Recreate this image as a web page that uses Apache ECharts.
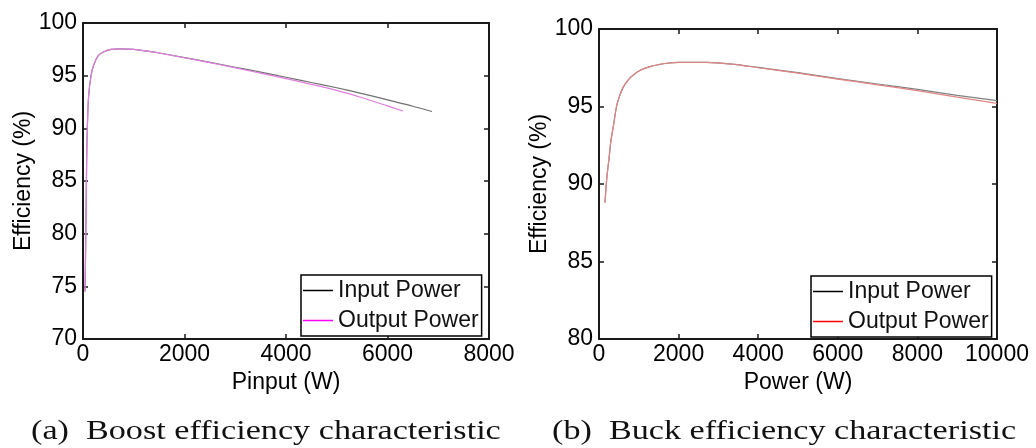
<!DOCTYPE html>
<html>
<head>
<meta charset="utf-8">
<script src="https://cdn.jsdelivr.net/npm/echarts@6/dist/echarts.min.js"></script>
<style>
  html, body { margin: 0; padding: 0; background: #fff; }
  #chart { width: 1036px; height: 448px; }
</style>
</head>
<body>
<div id="chart"></div>
<script>
// ---- Data ----
// (a) Boost: efficiency (%) vs input power (W)
const boostInput = [
  [40, 74.5], [50, 78], [60, 82], [72, 87], [85, 90], [110, 93], [158, 95], [210, 96],
  [300, 96.9], [400, 97.25], [550, 97.5], [750, 97.55], [1000, 97.5], [1300, 97.3],
  [1500, 97.15], [2000, 96.72], [2500, 96.27], [3000, 95.8], [3500, 95.33], [4000, 94.85],
  [4500, 94.35], [5000, 93.85], [5500, 93.3], [6000, 92.7], [6500, 92.1], [6877, 91.6]
];
const boostOutput = [
  [40, 74.5], [50, 78], [60, 82], [72, 87], [85, 90], [110, 93], [158, 95], [210, 96],
  [300, 96.9], [400, 97.25], [550, 97.5], [750, 97.55], [1000, 97.5], [1300, 97.3],
  [1500, 97.15], [2000, 96.7], [2500, 96.23], [3000, 95.74], [3500, 95.24], [4000, 94.72],
  [4500, 94.18], [5000, 93.6], [5500, 92.9], [6000, 92.13], [6305, 91.65]
];
// (b) Buck: efficiency (%) vs power (W)
const buckInput = [
  [150, 88.8], [200, 90.5], [250, 91.6], [300, 92.8], [360, 93.7], [440, 95.0], [520, 95.7],
  [610, 96.25], [730, 96.7], [860, 97.03], [1050, 97.35], [1280, 97.57], [1500, 97.7],
  [1700, 97.79], [2000, 97.85], [2700, 97.85], [3400, 97.72], [4000, 97.52], [5000, 97.18],
  [6000, 96.8], [7000, 96.45], [8000, 96.1], [9000, 95.72], [10000, 95.38]
];
const buckOutput = [
  [150, 88.8], [200, 90.5], [250, 91.6], [300, 92.8], [360, 93.7], [440, 95.0], [520, 95.7],
  [610, 96.25], [730, 96.7], [860, 97.03], [1050, 97.35], [1280, 97.57], [1500, 97.7],
  [1700, 97.79], [2000, 97.85], [2700, 97.85], [3400, 97.72], [4000, 97.5], [5000, 97.15],
  [6000, 96.77], [7000, 96.4], [8000, 96.02], [9000, 95.6], [10000, 95.2]
];
const legendNames = ['Input Power', 'Output Power'];
const axisNamesA = ['Pinput (W)', 'Efficiency (%)'];
const axisNamesB = ['Power (W)', 'Efficiency (%)'];
const captions = ['(a)  Boost efficiency characteristic', '(b)  Buck efficiency characteristic'];

// ---- Chart ----
const FONT = '"Liberation Sans", Arial, Helvetica, sans-serif';
const AX = '#1a1a1a';
const chart = echarts.init(document.getElementById('chart'), null, { renderer: 'canvas' });
const plainNum = (v) => String(v);

function xAxisPair(gridIndex, max, name) {
  const common = {
    type: 'value', gridIndex, min: 0, max, interval: 2000,
    axisLine: { show: true, onZero: false, lineStyle: { color: AX, width: 2 } },
    axisTick: { show: true, inside: true, length: 5, lineStyle: { color: AX, width: 1.5 } },
    splitLine: { show: false }
  };
  return [
    Object.assign({}, common, {
      position: 'bottom',
      name, nameLocation: 'middle', nameGap: 25,
      nameTextStyle: { fontSize: 23, color: '#000', fontFamily: FONT },
      axisLabel: { fontSize: 23, color: '#000', fontFamily: FONT, margin: 4, formatter: plainNum }
    }),
    Object.assign({}, common, { position: 'top', axisLabel: { show: false } })
  ];
}
function yAxisPair(gridIndex, min, name) {
  const common = {
    type: 'value', gridIndex, min, max: 100, interval: 5,
    axisLine: { show: true, onZero: false, lineStyle: { color: AX, width: 2 } },
    axisTick: { show: true, inside: true, length: 5, lineStyle: { color: AX, width: 1.5 } },
    splitLine: { show: false }
  };
  return [
    Object.assign({}, common, {
      position: 'left',
      name, nameLocation: 'middle', nameGap: 48,
      nameTextStyle: { fontSize: 23, color: '#000', fontFamily: FONT },
      axisLabel: { fontSize: 23, color: '#000', fontFamily: FONT, margin: 6, formatter: plainNum }
    }),
    Object.assign({}, common, { position: 'right', axisLabel: { show: false } })
  ];
}

function legendBox(left, top, names, colors, suffix) {
  return {
    left, top, orient: 'vertical', selectedMode: false,
    icon: 'rect', itemWidth: 30, itemHeight: 1.5, itemGap: 5,
    padding: [3, 3, 3, 2],
    borderColor: '#000', borderWidth: 1.5, backgroundColor: '#fff',
    textStyle: { fontSize: 23, color: '#111', fontFamily: FONT, lineHeight: 25 },
    formatter: (n) => n.replace(suffix, ''),
    data: names.map((n, i) => ({ name: n + suffix, itemStyle: { color: colors[i] } }))
  };
}

function lineSeries(name, data, xi, yi, color) {
  return {
    type: 'line', name, data, xAxisIndex: xi, yAxisIndex: yi,
    showSymbol: false, symbol: 'none', smooth: 0.3,
    lineStyle: { color, width: 1.2 }, itemStyle: { color },
    clip: true, animation: false
  };
}

const option = {
  backgroundColor: '#fff',
  animation: false,
  grid: [
    { left: 83, top: 23, width: 406, height: 316, show: false },
    { left: 599, top: 29, width: 398, height: 310, show: false }
  ],
  xAxis: [].concat(xAxisPair(0, 8000, axisNamesA[0]), xAxisPair(1, 10000, axisNamesB[0])),
  yAxis: [].concat(yAxisPair(0, 70, axisNamesA[1]), yAxisPair(1, 80, axisNamesB[1])),
  legend: [
    legendBox(301, 275, legendNames, ['#000', '#ff00ff'], ''),
    legendBox(811, 276, legendNames, ['#000', '#ff0000'], ' (b)')
  ],
  series: [
    lineSeries(legendNames[0], boostInput, 0, 0, '#707070'),
    lineSeries(legendNames[1], boostOutput, 0, 0, '#e07ee0'),
    lineSeries(legendNames[0] + ' (b)', buckInput, 2, 2, '#808080'),
    lineSeries(legendNames[1] + ' (b)', buckOutput, 2, 2, '#e08585')
  ],
  graphic: [
    { type: 'text', x: 31, y: 432, scaleX: 1.22, silent: true,
      style: { text: captions[0], font: '28px "Liberation Serif", "Times New Roman", serif',
               fill: '#111', verticalAlign: 'middle', textVerticalAlign: 'middle' } },
    { type: 'text', x: 552, y: 432, scaleX: 1.22, silent: true,
      style: { text: captions[1], font: '28px "Liberation Serif", "Times New Roman", serif',
               fill: '#111', verticalAlign: 'middle', textVerticalAlign: 'middle' } }
  ]
};
chart.setOption(option);
</script>
</body>
</html>
